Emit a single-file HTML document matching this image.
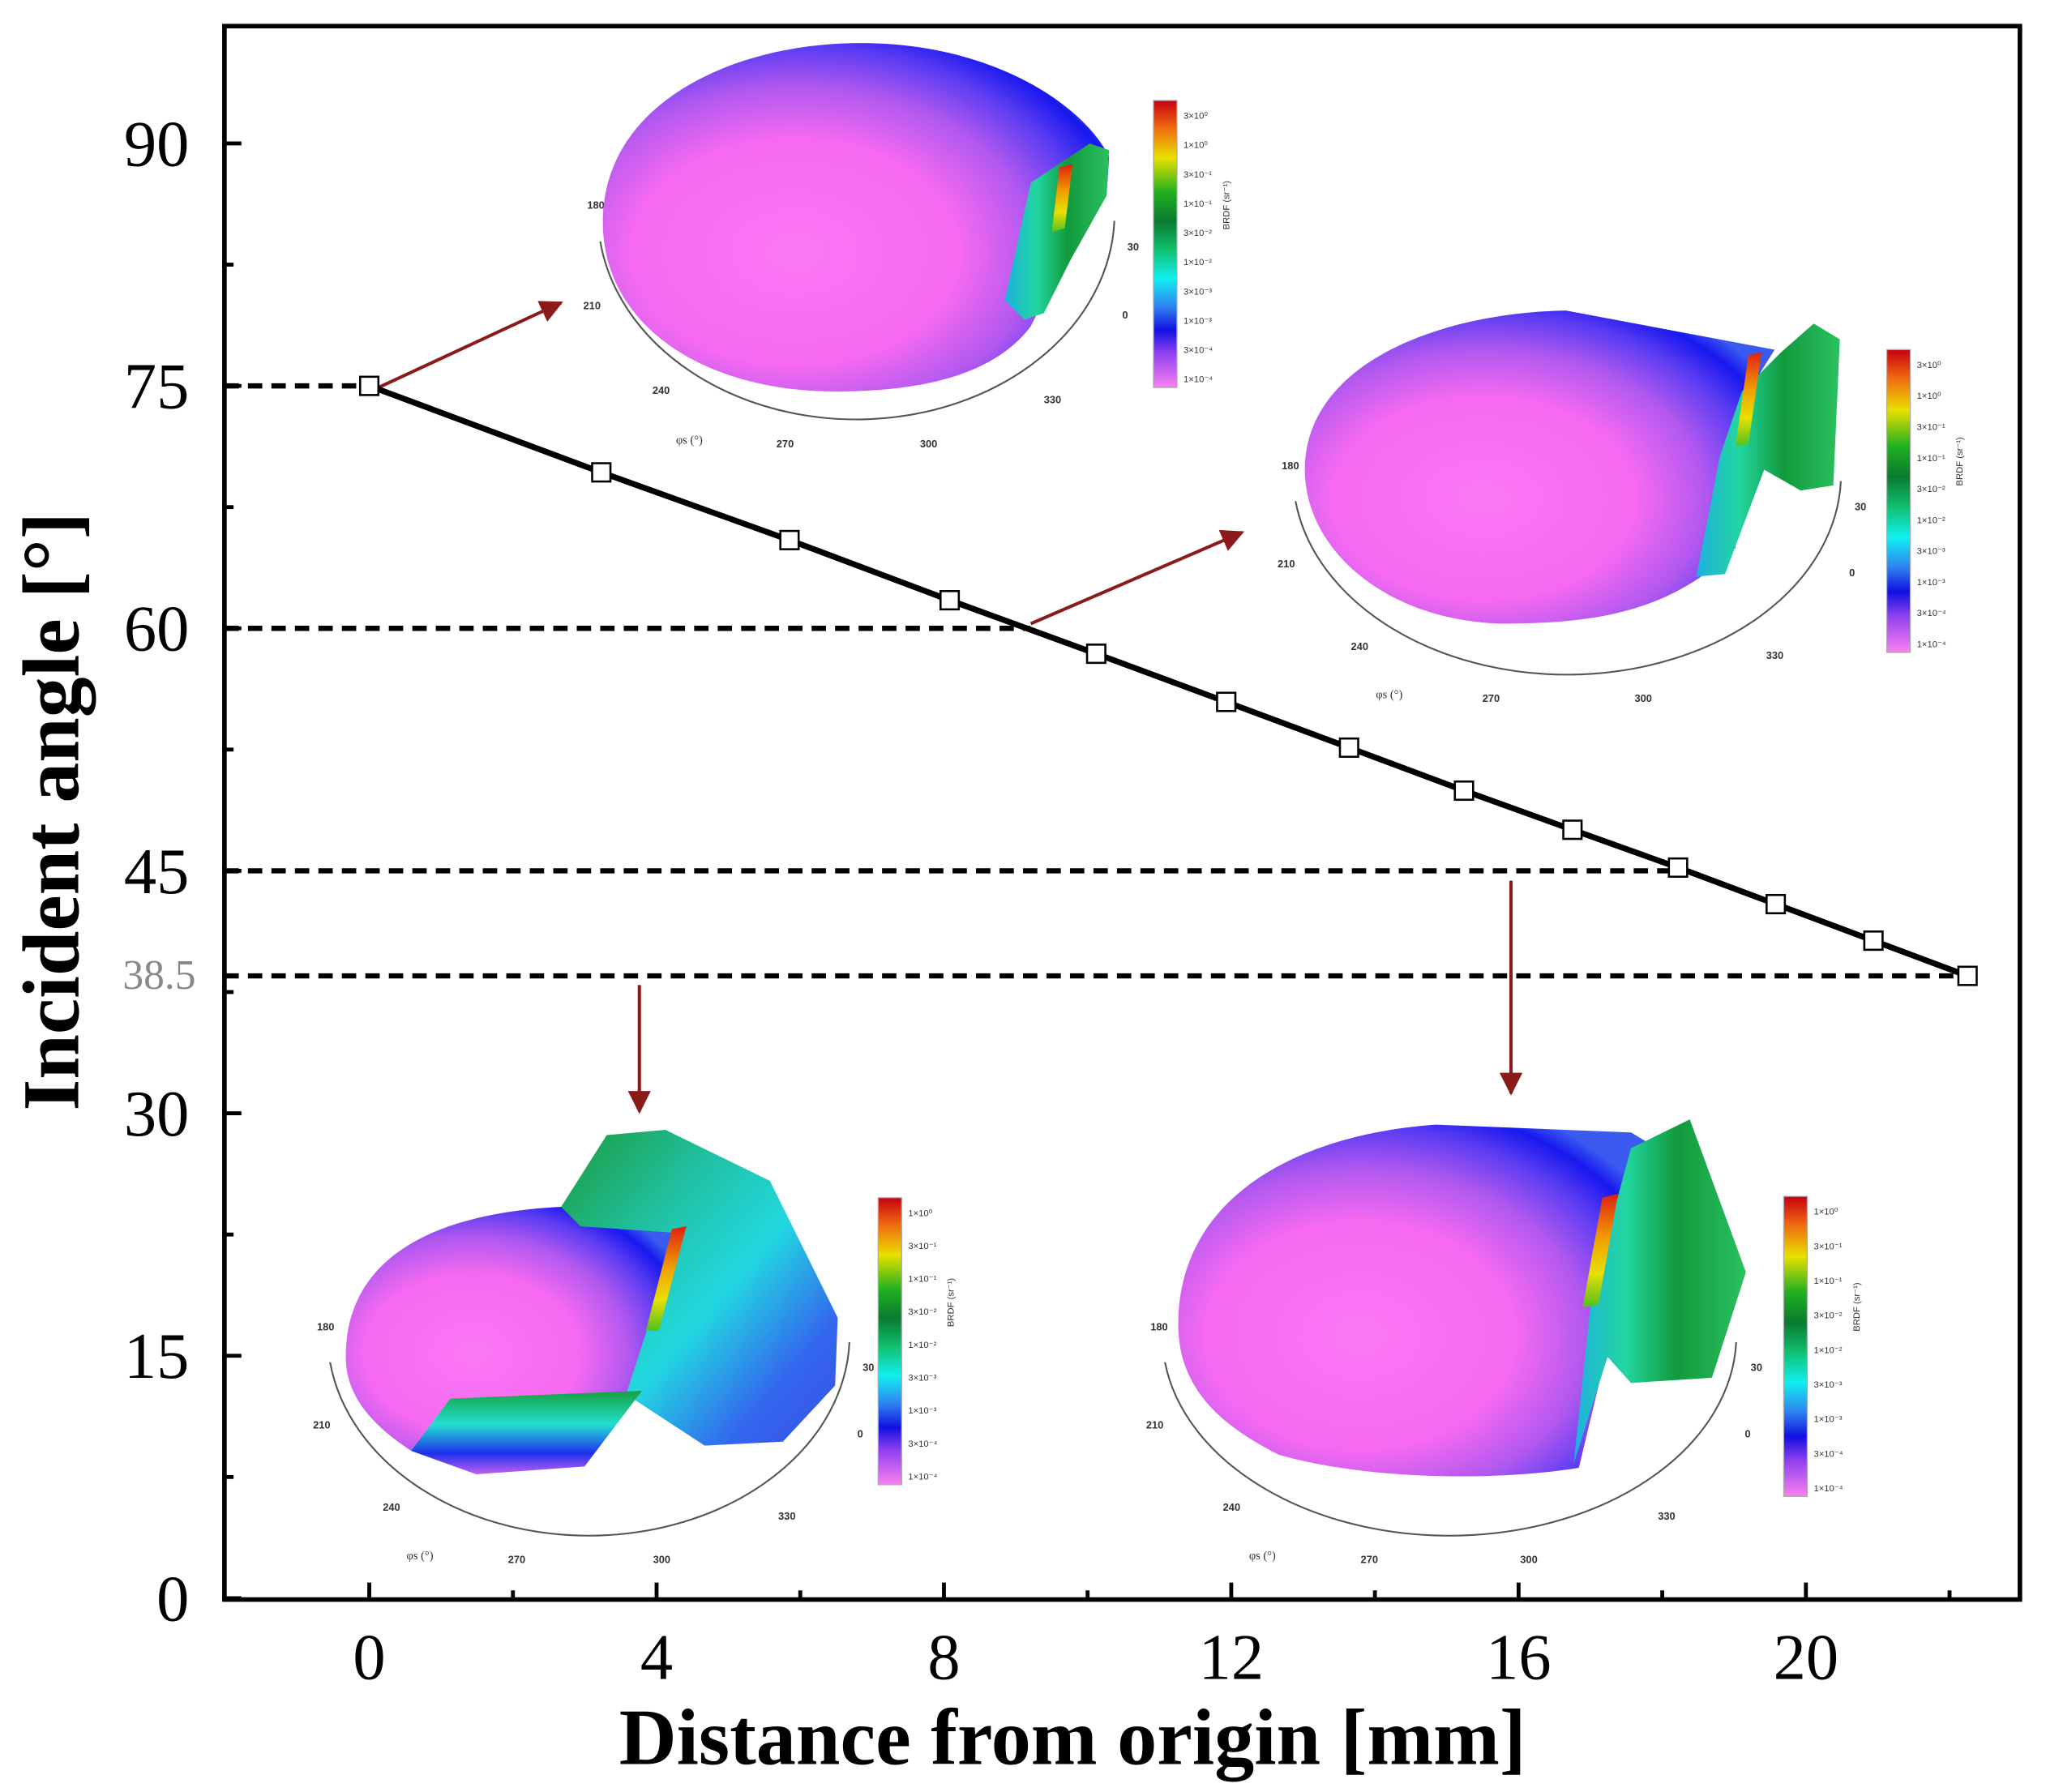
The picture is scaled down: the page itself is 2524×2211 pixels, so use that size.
<!DOCTYPE html>
<html><head><meta charset="utf-8"><style>
html,body{margin:0;padding:0;background:#fff;}
svg{display:block;}
</style></head><body>
<svg id="chart" width="2524" height="2211" viewBox="0 0 1568 1373.5" xmlns="http://www.w3.org/2000/svg">
<defs>
  <radialGradient id="bodyGrad" cx="0.38" cy="0.6" r="0.72">
    <stop offset="0" stop-color="#fb78f5"/>
    <stop offset="0.45" stop-color="#f56af0"/>
    <stop offset="0.66" stop-color="#b058f0"/>
    <stop offset="0.82" stop-color="#5a3cf2"/>
    <stop offset="0.93" stop-color="#1818ee"/>
    <stop offset="1" stop-color="#3a5af0"/>
  </radialGradient>
  <linearGradient id="greenGrad" x1="0" y1="0" x2="1" y2="0">
    <stop offset="0" stop-color="#1fb0e0"/>
    <stop offset="0.3" stop-color="#22d6a0"/>
    <stop offset="0.6" stop-color="#129a3c"/>
    <stop offset="1" stop-color="#2ac060"/>
  </linearGradient>
  <linearGradient id="backGrad" x1="0" y1="0" x2="1" y2="1">
    <stop offset="0" stop-color="#1c9a3a"/>
    <stop offset="0.3" stop-color="#20c0a0"/>
    <stop offset="0.55" stop-color="#22d8e0"/>
    <stop offset="0.8" stop-color="#3366ee"/>
    <stop offset="1" stop-color="#3a50e8"/>
  </linearGradient>
  <linearGradient id="bandGrad" x1="0" y1="0" x2="0" y2="1">
    <stop offset="0" stop-color="#18a040"/>
    <stop offset="0.4" stop-color="#22e0d0"/>
    <stop offset="0.75" stop-color="#2030ee"/>
    <stop offset="1" stop-color="#c060f0"/>
  </linearGradient>
  <linearGradient id="streakGrad" x1="0" y1="0" x2="0" y2="1">
    <stop offset="0" stop-color="#e02010"/>
    <stop offset="0.4" stop-color="#f0a000"/>
    <stop offset="0.7" stop-color="#e8e000"/>
    <stop offset="1" stop-color="#50c020"/>
  </linearGradient>
  <linearGradient id="cbarGrad" x1="0" y1="0" x2="0" y2="1">
    <stop offset="0" stop-color="#c80010"/>
    <stop offset="0.1" stop-color="#f07010"/>
    <stop offset="0.2" stop-color="#e8e000"/>
    <stop offset="0.32" stop-color="#20b020"/>
    <stop offset="0.42" stop-color="#0a7a30"/>
    <stop offset="0.52" stop-color="#10c070"/>
    <stop offset="0.62" stop-color="#10f0f0"/>
    <stop offset="0.72" stop-color="#3080f0"/>
    <stop offset="0.8" stop-color="#1010e0"/>
    <stop offset="0.88" stop-color="#9040f0"/>
    <stop offset="1" stop-color="#fa80f0"/>
  </linearGradient>
  <marker id="arrowHead" viewBox="0 0 10 10" refX="9" refY="5" markerWidth="7" markerHeight="7" orient="auto">
    <path d="M0,0 L10,5 L0,10 Z" fill="#8b1a1a"/>
  </marker>
</defs>
<g id="insets"></g>
<g id="plot"></g>
</svg>
<script>
// ---- chart data ----
const distances = [0, 3.23, 5.85, 8.08, 10.12, 11.93, 13.64, 15.24, 16.75, 18.22, 19.58, 20.94, 22.25];
const angles = [75, 69.65, 65.46, 61.74, 58.43, 55.45, 52.62, 49.96, 47.54, 45.2, 42.94, 40.68, 38.5];
const xTickLabels = [0, 4, 8, 12, 16, 20];
const xMinorTicks = [2, 6, 10, 14, 18, 22];
const yTickLabels = [0, 15, 30, 45, 60, 75, 90];
const yMinorTicks = [7.5, 22.5, 37.5, 52.5, 67.5, 82.5];
const refAngles = [75, 60, 45, 38.5];
const refEnds = [0, 9.2, 18.3, 22.25];

const NS = 'http://www.w3.org/2000/svg';
const L = 172, R = 1548, T = 20, B = 1226;
function xs(v){ return 283 + v * 55.05; }
function ys(v){ return 1225 - v * 12.39; }
function mk(tag, attrs, parent){
  const e = document.createElementNS(NS, tag);
  for (const k in attrs) e.setAttribute(k, attrs[k]);
  parent.appendChild(e);
  return e;
}
const plot = document.getElementById('plot');
const insets = document.getElementById('insets');

function arcAndLabels(g, x0, y0, w, h){
  const sx = w / 396, sy = h / 195;
  const P = (x, y) => [x0 + (x - 462) * sx, y0 + (y - 150) * sy];
  const cx = P(658, 185), rx = 198 * sx, ry = 158 * sy;
  const a = mk('path', {d:`M ${cx[0]-rx} ${cx[1]} A ${rx} ${ry} 0 0 0 ${cx[0]+rx*0.99} ${cx[1]-ry*0.1}`, fill:'none', stroke:'#555', 'stroke-width':1.3}, g);
  
  
  const labs = [['180',450,160],['210',447,237],['240',500,302],['270',595,343],['300',705,343],['330',800,309],['0',860,244],['30',864,192]];
  labs.forEach(l => {
    const p = P(l[1], l[2]);
    const t = mk('text', {x:p[0], y:p[1], 'font-size':8, 'font-family':'Liberation Sans, sans-serif', 'font-weight':'bold', fill:'#333'}, g);
    t.textContent = l[0];
    
    
  });
  const p = P(518, 340);
  const phi = mk('text', {x:p[0], y:p[1], 'font-size':9, 'font-family':'Liberation Serif, serif', fill:'#333'}, g);
  phi.textContent = 'φs (°)';
  
  
}
function colorbar(g, x, y, h, labels){
  const r = mk('rect', {x:x, y:y, width:18, height:h, fill:'url(#cbarGrad)', stroke:'#aaa', 'stroke-width':0.8}, g);
  
  
  labels.forEach((s, i) => {
    const t = mk('text', {x:x+23, y:y + 14 + i * (h - 18) / (labels.length - 1), 'font-size':7, 'font-family':'Liberation Sans, sans-serif', fill:'#333'}, g);
    t.textContent = s;
    
    
  });
  const tl = mk('text', {x:x+58, y:y+h*0.45, 'font-size':7, 'font-family':'Liberation Sans, sans-serif', fill:'#333', transform:`rotate(-90 ${x+58} ${y+h*0.45})`}, g);
  tl.textContent = 'BRDF (sr⁻¹)';
  
  
}
const cbLabels = ['3×10⁰','1×10⁰','3×10⁻¹','1×10⁻¹','3×10⁻²','1×10⁻²','3×10⁻³','1×10⁻³','3×10⁻⁴','1×10⁻⁴'];

function addPath(g, d, fill, name){
  const p = mk('path', {d:d, fill:fill}, g);
  
  
  return p;
}

let g1 = mk('g', {}, insets);


arcAndLabels(g1, 462, 150, 396, 195);
addPath(g1, 'M 462,170 C 462,80 560,33 660,33 C 760,33 830,80 850,120 L 848,150 L 800,230 L 790,250 C 760,290 700,300 640,300 C 540,300 462,250 462,170 Z', 'url(#bodyGrad)', 'brdf-surface');
addPath(g1, 'M 790,140 L 835,110 L 850,115 L 848,150 L 820,200 L 800,240 L 785,245 L 770,230 Z', 'url(#greenGrad)', 'brdf-peak-region');
addPath(g1, 'M 812,128 L 822,126 L 816,175 L 806,178 Z', 'url(#streakGrad)', 'brdf-specular-peak');
colorbar(g1, 884, 77, 220, cbLabels);

let g2 = mk('g', {}, insets);


arcAndLabels(g2, 995, 350, 420, 190);
addPath(g2, 'M 1000,360 C 1000,280 1100,240 1200,238 L 1360,268 L 1340,300 L 1330,420 C 1280,470 1220,478 1150,478 C 1060,475 1000,420 1000,360 Z', 'url(#bodyGrad)', 'brdf-surface');
addPath(g2, 'M 1335,300 L 1365,270 L 1390,248 L 1410,260 L 1405,372 L 1380,376 L 1352,360 L 1322,440 L 1300,442 L 1318,350 Z', 'url(#greenGrad)', 'brdf-peak-region');
addPath(g2, 'M 1340,272 L 1350,270 L 1340,340 L 1330,342 Z', 'url(#streakGrad)', 'brdf-specular-peak');
colorbar(g2, 1446, 268, 232, cbLabels);

let g3 = mk('g', {}, insets);


arcAndLabels(g3, 255, 1010, 400, 190);
addPath(g3, 'M 430,925 L 465,870 L 510,866 L 590,905 L 642,1010 L 640,1062 L 600,1105 L 540,1108 L 485,1072 L 455,1070 Z', 'url(#backGrad)', 'brdf-peak-region');
addPath(g3, 'M 265,1040 C 265,965 330,930 430,925 L 445,940 L 520,945 L 480,1068 L 345,1072 L 315,1112 C 285,1092 265,1070 265,1040 Z', 'url(#bodyGrad)', 'brdf-surface');
addPath(g3, 'M 345,1072 L 492,1066 L 448,1124 L 365,1130 L 315,1112 Z', 'url(#bandGrad)', 'brdf-lower-band');
addPath(g3, 'M 515,942 L 526,940 L 505,1020 L 495,1020 Z', 'url(#streakGrad)', 'brdf-specular-peak');
colorbar(g3, 673, 918, 220, cbLabels.slice(1));

let g4 = mk('g', {}, insets);


arcAndLabels(g4, 895, 1010, 440, 190);
addPath(g4, 'M 903,1015 C 903,920 990,870 1100,862 L 1250,868 L 1270,880 L 1240,1000 L 1210,1125 C 1150,1135 1050,1135 980,1115 C 930,1090 903,1060 903,1015 Z', 'url(#bodyGrad)', 'brdf-surface');
addPath(g4, 'M 1250,880 L 1295,858 L 1338,975 L 1312,1056 L 1250,1060 L 1232,1040 L 1206,1122 L 1220,990 Z', 'url(#greenGrad)', 'brdf-peak-region');
addPath(g4, 'M 1228,918 L 1240,915 L 1225,1000 L 1213,1002 Z', 'url(#streakGrad)', 'brdf-specular-peak');
colorbar(g4, 1367, 917, 230, cbLabels.slice(1));

refAngles.forEach((a, i) => {
  const l = mk('line', {x1:L, x2:xs(refEnds[i]), y1:ys(a), y2:ys(a), stroke:'#000', 'stroke-width':4, 'stroke-dasharray':'11 7'}, plot);
  
  
});

const arrows = [[290,297,430,232],[790,478,952,408],[490,755,490,852],[1158,675,1158,838]];
arrows.forEach(a => {
  const l = mk('line', {x1:a[0], y1:a[1], x2:a[2], y2:a[3], stroke:'#8b1a1a', 'stroke-width':2.5, 'marker-end':'url(#arrowHead)'}, plot);
  
  
});

const pts = distances.map((d, i) => xs(d) + ',' + ys(angles[i])).join(' ');
const pl = mk('polyline', {points:pts, fill:'none', stroke:'#000', 'stroke-width':4.5}, plot);


distances.forEach((d, i) => {
  const r = mk('rect', {x:xs(d)-7, y:ys(angles[i])-7, width:14, height:14, fill:'#fff', stroke:'#000', 'stroke-width':1.6}, plot);
  
  
});

const fr = mk('rect', {x:L, y:T, width:R-L, height:B-T, fill:'none', stroke:'#000', 'stroke-width':3.5}, plot);



xTickLabels.forEach(v => {
  const t = mk('line', {x1:xs(v), x2:xs(v), y1:B, y2:B-13, stroke:'#000', 'stroke-width':3}, plot);
  
  
  const tx = mk('text', {x:xs(v), y:1287, 'text-anchor':'middle', 'font-size':50, 'font-family':'Liberation Serif, serif'}, plot);
  tx.textContent = v;
  
  
});
xMinorTicks.forEach(v => {
  const t = mk('line', {x1:xs(v), x2:xs(v), y1:B, y2:B-7, stroke:'#000', 'stroke-width':3}, plot);
  
  
});
yTickLabels.forEach(v => {
  const t = mk('line', {x1:L, x2:L+13, y1:ys(v), y2:ys(v), stroke:'#000', 'stroke-width':3}, plot);
  
  
  const tx = mk('text', {x:145, y:ys(v)+17, 'text-anchor':'end', 'font-size':50, 'font-family':'Liberation Serif, serif'}, plot);
  tx.textContent = v;
  
  
});
yMinorTicks.forEach(v => {
  const t = mk('line', {x1:L, x2:L+7, y1:ys(v), y2:ys(v), stroke:'#000', 'stroke-width':3}, plot);
  
  
});
const extra = mk('text', {x:150, y:ys(38.5)+10, 'text-anchor':'end', 'font-size':32, 'font-family':'Liberation Serif, serif', fill:'#888'}, plot);
extra.textContent = '38.5';



const xt = mk('text', {x:822, y:1352, 'text-anchor':'middle', 'font-size':61, 'font-weight':'bold', 'font-family':'Liberation Serif, serif'}, plot);
xt.textContent = 'Distance from origin [mm]';


const yt = mk('text', {x:60, y:622, 'text-anchor':'middle', 'font-size':62, 'font-weight':'bold', 'font-family':'Liberation Serif, serif', transform:'rotate(-90 60 622)'}, plot);
yt.textContent = 'Incident angle [°]';


</script>
</body></html>
